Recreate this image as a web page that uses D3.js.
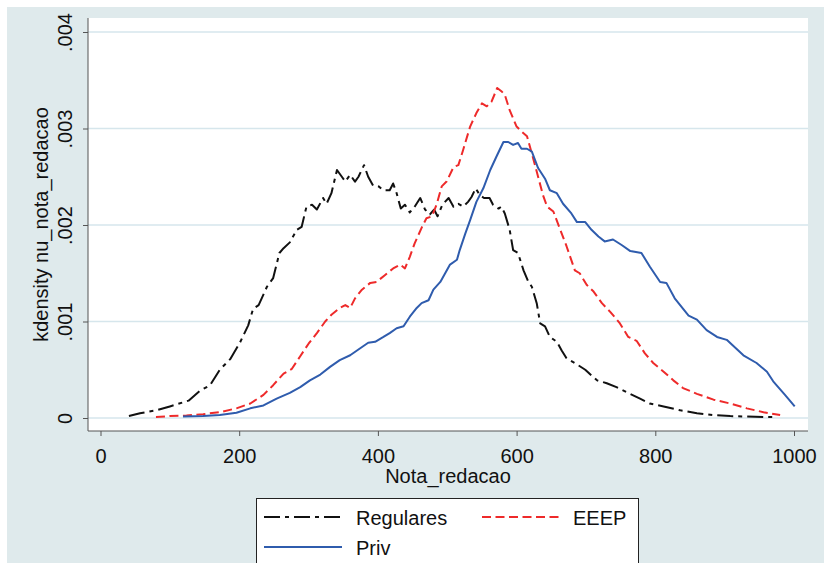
<!DOCTYPE html>
<html lang="en">
<head>
    <meta charset="UTF-8">
    <title>kdensity nu_nota_redacao</title>
    <script src="https://d3js.org/d3.v7.min.js"></script>
    <style>
        html, body {
            margin: 0;
            padding: 0;
            background: #ffffff;
        }
        svg {
            display: block;
            font-family: Arial, "Liberation Sans", sans-serif;
        }
    </style>
</head>
<body>
    <svg id="chart" width="824" height="563"></svg>

    <script>
        // x ticks / y ticks
        const xTicks = [0, 200, 400, 600, 800, 1000];
        const yTicks = [0, 0.001, 0.002, 0.003, 0.004];
        const yTickLabels = ["0", ".001", ".002", ".003", ".004"];

        // series: [nota, density]
        const regulares = [
            [41, 0.00002], [57, 0.00005], [81, 0.00008], [100, 0.00012], [127, 0.00018],
            [143, 0.00028], [158, 0.00034], [172, 0.00050], [187, 0.00061], [201, 0.00078],
            [213, 0.00096], [220, 0.00113], [228, 0.00117], [240, 0.00136], [249, 0.00145],
            [258, 0.00171], [264, 0.00176], [273, 0.00182], [283, 0.00195], [290, 0.00198],
            [297, 0.00219], [305, 0.00221], [312, 0.00216], [321, 0.00228], [326, 0.00222],
            [333, 0.00233], [341, 0.00257], [348, 0.00250], [353, 0.00245], [360, 0.00252],
            [367, 0.00245], [372, 0.00250], [380, 0.00262], [386, 0.00250], [393, 0.00241],
            [401, 0.00240], [408, 0.00236], [417, 0.00236], [422, 0.00243], [427, 0.00233],
            [433, 0.00217], [439, 0.00221], [446, 0.00213], [453, 0.00219], [461, 0.00228],
            [468, 0.00216], [475, 0.00211], [481, 0.00216], [486, 0.00209], [493, 0.00221],
            [502, 0.00228], [509, 0.00219], [516, 0.00222], [523, 0.00219], [530, 0.00224],
            [535, 0.00229], [541, 0.00238], [547, 0.00231], [553, 0.00228], [561, 0.00228],
            [566, 0.00221], [574, 0.00217], [578, 0.00219], [583, 0.00212], [590, 0.00195],
            [595, 0.00174], [602, 0.00171], [610, 0.00153], [617, 0.00141], [622, 0.00136],
            [629, 0.00119], [634, 0.00098], [641, 0.00095], [648, 0.00084], [658, 0.00079],
            [665, 0.00070], [672, 0.00062], [684, 0.00057], [699, 0.00050], [708, 0.00044],
            [716, 0.00039], [730, 0.00036], [744, 0.00032], [761, 0.00026], [778, 0.00020],
            [792, 0.00015], [812, 0.00012], [836, 0.00008], [860, 0.00005], [884, 0.00003],
            [908, 0.00002], [932, 0.000015], [956, 0.00001], [973, 0.00001]
        ];

        const eeep = [
            [80, 0.00001], [100, 0.00002], [124, 0.000025], [148, 0.00004], [172, 0.00006],
            [196, 0.00010], [216, 0.00015], [235, 0.00024], [249, 0.00034], [264, 0.00046],
            [276, 0.00051], [288, 0.00064], [300, 0.00077], [312, 0.00088], [324, 0.00100],
            [333, 0.00107], [345, 0.00114], [353, 0.00117], [360, 0.00114], [367, 0.00124],
            [377, 0.00133], [389, 0.00140], [398, 0.00141], [410, 0.00148], [422, 0.00155],
            [432, 0.00159], [439, 0.00155], [446, 0.00167], [453, 0.00181], [463, 0.00197],
            [470, 0.00207], [478, 0.00209], [485, 0.00222], [492, 0.00240], [499, 0.00245],
            [509, 0.00260], [516, 0.00262], [523, 0.00278], [533, 0.00302], [542, 0.00316],
            [550, 0.00326], [557, 0.00323], [564, 0.00328], [572, 0.00342], [579, 0.00338],
            [583, 0.00335], [590, 0.00319], [600, 0.00302], [607, 0.00297], [615, 0.00292],
            [622, 0.00274], [631, 0.00250], [638, 0.00231], [644, 0.00219], [653, 0.00214],
            [663, 0.00195], [672, 0.00178], [684, 0.00153], [691, 0.00150], [701, 0.00138],
            [711, 0.00131], [723, 0.00119], [735, 0.00110], [749, 0.00098], [761, 0.00084],
            [773, 0.00080], [785, 0.00067], [797, 0.00057], [812, 0.00048], [826, 0.00039],
            [840, 0.00031], [860, 0.00025], [884, 0.00019], [908, 0.00015], [932, 0.00010],
            [956, 0.00006], [980, 0.00003]
        ];

        const priv = [
            [119, 0.000015], [148, 0.00002], [172, 0.00003], [196, 0.000055], [216, 0.00010],
            [235, 0.00013], [254, 0.00020], [273, 0.00026], [288, 0.00032], [302, 0.00039],
            [317, 0.00045], [331, 0.00053], [345, 0.00060], [360, 0.00065], [374, 0.00072],
            [386, 0.00078], [396, 0.00079], [408, 0.00084], [417, 0.00088], [427, 0.00093],
            [437, 0.00095], [446, 0.00105], [456, 0.00114], [463, 0.00119], [473, 0.00122],
            [480, 0.00133], [490, 0.00141], [497, 0.00150], [504, 0.00159], [514, 0.00164],
            [518, 0.00174], [526, 0.00191], [533, 0.00205], [542, 0.00224], [552, 0.00238],
            [562, 0.00257], [571, 0.00271], [581, 0.00286], [588, 0.00286], [595, 0.00283],
            [602, 0.00285], [607, 0.00279], [615, 0.00279], [622, 0.00276], [631, 0.00259],
            [641, 0.00248], [648, 0.00236], [658, 0.00233], [667, 0.00222], [679, 0.00212],
            [687, 0.00203], [699, 0.00203], [708, 0.00195], [718, 0.00188], [727, 0.00183],
            [739, 0.00185], [752, 0.00179], [764, 0.00173], [780, 0.00171], [792, 0.00157],
            [807, 0.00141], [816, 0.00140], [828, 0.00124], [848, 0.00106], [860, 0.00102],
            [874, 0.00091], [889, 0.00084], [903, 0.00081], [927, 0.00065], [946, 0.00057],
            [961, 0.00048], [970, 0.00038], [987, 0.00024], [1001, 0.00012]
        ];

        const legendNames = ["Regulares", "EEEP", "Priv"];

        const W = 824, H = 563;
        const plot = {left: 88, right: 808, top: 18, bottom: 431};

        const x = d3.scaleLinear().domain([0, 1000]).range([100.5, 794]);
        const y = d3.scaleLinear().domain([0, 0.004]).range([418, 32]);

        const svg = d3.select("#chart");

        // graph region
        svg.append("rect")
            .attr("x", 7).attr("y", 7)
            .attr("width", W - 7).attr("height", H - 7)
            .attr("fill", "#dfeaec");

        // plot region
        svg.append("rect")
            .attr("x", plot.left).attr("y", plot.top)
            .attr("width", plot.right - plot.left)
            .attr("height", plot.bottom - plot.top)
            .attr("fill", "#ffffff");

        // gridlines
        svg.append("g")
            .selectAll("line")
            .data(yTicks)
            .join("line")
            .attr("x1", plot.left).attr("x2", plot.right)
            .attr("y1", d => y(d)).attr("y2", d => y(d))
            .attr("stroke", "#d6e6ec")
            .attr("stroke-width", 1.5);

        // y axis
        const yAxis = svg.append("g")
            .attr("transform", `translate(${plot.left},0)`)
            .call(d3.axisLeft(y).tickValues(yTicks)
                .tickFormat((d, i) => yTickLabels[i])
                .tickSize(5).tickSizeOuter(0));
        yAxis.select(".domain").remove();
        yAxis.append("line")
            .attr("x1", 0).attr("x2", 0)
            .attr("y1", plot.top).attr("y2", plot.bottom)
            .attr("stroke", "#555");
        yAxis.selectAll(".tick line").attr("stroke", "#555");
        yAxis.selectAll(".tick text")
            .attr("x", null).attr("dy", null)
            .attr("transform", "translate(-16,0) rotate(-90)")
            .attr("text-anchor", "middle")
            .attr("fill", "#111")
            .style("font-size", "20px")
            .style("font-family", "Arial, 'Liberation Sans', sans-serif");

        // x axis
        const xAxis = svg.append("g")
            .attr("transform", `translate(0,${plot.bottom})`)
            .call(d3.axisBottom(x).tickValues(xTicks)
                .tickFormat(d3.format("d"))
                .tickSize(5).tickSizeOuter(0));
        xAxis.select(".domain").remove();
        xAxis.append("line")
            .attr("x1", plot.left).attr("x2", plot.right)
            .attr("y1", 0).attr("y2", 0)
            .attr("stroke", "#555");
        xAxis.selectAll(".tick line").attr("stroke", "#555");
        xAxis.selectAll(".tick text")
            .attr("y", 32).attr("dy", null)
            .attr("fill", "#111")
            .style("font-size", "20px")
            .style("font-family", "Arial, 'Liberation Sans', sans-serif");

        // axis titles
        svg.append("text")
            .attr("transform", `translate(48,${(plot.top + plot.bottom) / 2}) rotate(-90)`)
            .attr("text-anchor", "middle")
            .attr("fill", "#111")
            .style("font-size", "20px")
            .text("kdensity nu_nota_redacao");

        svg.append("text")
            .attr("x", (plot.left + plot.right) / 2)
            .attr("y", 483)
            .attr("text-anchor", "middle")
            .attr("fill", "#111")
            .style("font-size", "20px")
            .text("Nota_redacao");

        // lines
        const line = d3.line().x(d => x(d[0])).y(d => y(d[1]));

        const styles = [
            {data: regulares, color: "#111111", dash: "16,5,4,5"},
            {data: eeep, color: "#ee2a2a", dash: "9,4.5"},
            {data: priv, color: "#2f5cad", dash: null}
        ];

        svg.append("g")
            .selectAll("path")
            .data(styles)
            .join("path")
            .attr("d", d => line(d.data))
            .attr("fill", "none")
            .attr("stroke", d => d.color)
            .attr("stroke-width", 2)
            .attr("stroke-linejoin", "round")
            .attr("stroke-dasharray", d => d.dash);

        // legend
        const legend = svg.append("g");
        legend.append("rect")
            .attr("x", 256.5).attr("y", 498.5)
            .attr("width", 382).attr("height", 80)
            .attr("fill", "#ffffff")
            .attr("stroke", "#222")
            .attr("stroke-width", 1);

        const legendPos = [
            {lx: 264, ly: 517, tx: 356},
            {lx: 482, ly: 517, tx: 573},
            {lx: 264, ly: 547, tx: 356}
        ];

        legendPos.forEach((p, i) => {
            legend.append("line")
                .attr("x1", p.lx).attr("x2", p.lx + 78)
                .attr("y1", p.ly).attr("y2", p.ly)
                .attr("stroke", styles[i].color)
                .attr("stroke-width", 2)
                .attr("stroke-dasharray", styles[i].dash);
            legend.append("text")
                .attr("x", p.tx).attr("y", p.ly + 8)
                .attr("fill", "#111")
                .style("font-size", "20px")
                .text(legendNames[i]);
        });
    </script>
</body>
</html>
